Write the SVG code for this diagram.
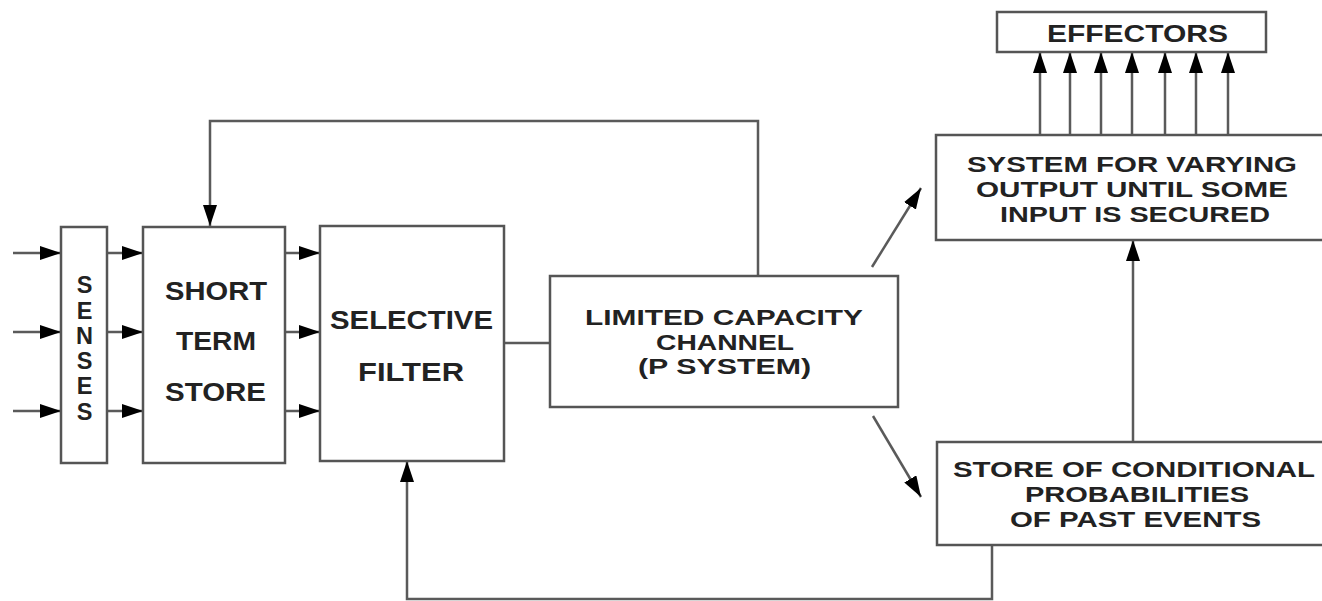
<svg xmlns="http://www.w3.org/2000/svg" width="1322" height="601" viewBox="0 0 1322 601">
<style>
.box{fill:#fff;stroke:#555;stroke-width:2.5}
.ln{fill:none;stroke:#5a5a5a;stroke-width:2.5}
.t{font-family:"Liberation Sans",Arial,sans-serif;font-weight:bold;font-size:22.5px;fill:#222;text-anchor:middle}
.big{font-size:25px}
</style>
<defs>
<marker id="ah" markerUnits="userSpaceOnUse" markerWidth="24" markerHeight="16" refX="21" refY="7" orient="auto">
<path d="M0,0 L21,7 L0,14 Z" fill="#000"/>
</marker>
</defs>
<rect width="1322" height="601" fill="#fff"/>
<g id="connectors">
<line class="ln" x1="13" y1="253" x2="61" y2="253" marker-end="url(#ah)"/>
<line class="ln" x1="13" y1="332" x2="61" y2="332" marker-end="url(#ah)"/>
<line class="ln" x1="13" y1="411" x2="61" y2="411" marker-end="url(#ah)"/>
<line class="ln" x1="107" y1="253" x2="143" y2="253" marker-end="url(#ah)"/>
<line class="ln" x1="107" y1="332" x2="143" y2="332" marker-end="url(#ah)"/>
<line class="ln" x1="107" y1="411" x2="143" y2="411" marker-end="url(#ah)"/>
<line class="ln" x1="285" y1="253" x2="320" y2="253" marker-end="url(#ah)"/>
<line class="ln" x1="285" y1="332" x2="320" y2="332" marker-end="url(#ah)"/>
<line class="ln" x1="285" y1="411" x2="320" y2="411" marker-end="url(#ah)"/>
<line class="ln" x1="504" y1="343" x2="550" y2="343"/>
<path class="ln" d="M758,276 V121 H210 V226" marker-end="url(#ah)"/>
<path class="ln" d="M992,545 V599 H407 V461" marker-end="url(#ah)"/>
<line class="ln" x1="872" y1="267" x2="921" y2="188" marker-end="url(#ah)"/>
<line class="ln" x1="873" y1="416" x2="921" y2="497" marker-end="url(#ah)"/>
<line class="ln" x1="1133" y1="442" x2="1133" y2="240" marker-end="url(#ah)"/>
<line class="ln" x1="1040" y1="135" x2="1040" y2="52" marker-end="url(#ah)"/>
<line class="ln" x1="1070" y1="135" x2="1070" y2="52" marker-end="url(#ah)"/>
<line class="ln" x1="1101" y1="135" x2="1101" y2="52" marker-end="url(#ah)"/>
<line class="ln" x1="1132" y1="135" x2="1132" y2="52" marker-end="url(#ah)"/>
<line class="ln" x1="1165" y1="135" x2="1165" y2="52" marker-end="url(#ah)"/>
<line class="ln" x1="1196" y1="135" x2="1196" y2="52" marker-end="url(#ah)"/>
<line class="ln" x1="1228" y1="135" x2="1228" y2="52" marker-end="url(#ah)"/>
</g>
<g id="senses">
<rect class="box" x="61" y="227" width="46" height="236"/>
<text class="t" style="font-size:23.5px"><tspan x="84.5" y="293">S</tspan><tspan x="84.5" y="319">E</tspan><tspan x="84.5" y="344">N</tspan><tspan x="84.5" y="369">S</tspan><tspan x="84.5" y="394">E</tspan><tspan x="84.5" y="420">S</tspan></text>
</g>
<g id="short-term-store">
<rect class="box" x="143" y="227" width="142" height="236"/>
<text class="t big" x="216" y="300" textLength="102" lengthAdjust="spacingAndGlyphs">SHORT</text>
<text class="t big" x="216" y="350" textLength="80" lengthAdjust="spacingAndGlyphs">TERM</text>
<text class="t big" x="215.5" y="401" textLength="101" lengthAdjust="spacingAndGlyphs">STORE</text>
</g>
<g id="selective-filter">
<rect class="box" x="320" y="226" width="184" height="235"/>
<text class="t big" x="411.5" y="329" textLength="163" lengthAdjust="spacingAndGlyphs">SELECTIVE</text>
<text class="t big" x="411" y="381" textLength="106" lengthAdjust="spacingAndGlyphs">FILTER</text>
</g>
<g id="limited-capacity-channel">
<rect class="box" x="550" y="276" width="348" height="131"/>
<text class="t" x="724" y="325" textLength="278" lengthAdjust="spacingAndGlyphs">LIMITED CAPACITY</text>
<text class="t" x="725" y="350" textLength="138" lengthAdjust="spacingAndGlyphs">CHANNEL</text>
<text class="t" x="724.5" y="374" textLength="173" lengthAdjust="spacingAndGlyphs">(P SYSTEM)</text>
</g>
<g id="system-varying-output">
<rect class="box" x="936" y="135" width="400" height="105"/>
<text class="t" x="1132" y="172" textLength="330" lengthAdjust="spacingAndGlyphs">SYSTEM FOR VARYING</text>
<text class="t" x="1132" y="197" textLength="312" lengthAdjust="spacingAndGlyphs">OUTPUT UNTIL SOME</text>
<text class="t" x="1135" y="222" textLength="270" lengthAdjust="spacingAndGlyphs">INPUT IS SECURED</text>
</g>
<g id="effectors">
<rect class="box" x="997" y="12" width="269" height="40"/>
<text class="t" style="font-size:23.5px" x="1137.5" y="42" textLength="181" lengthAdjust="spacingAndGlyphs">EFFECTORS</text>
</g>
<g id="store-conditional-probabilities">
<rect class="box" x="937" y="442" width="400" height="103"/>
<text class="t" x="1134" y="477" textLength="362" lengthAdjust="spacingAndGlyphs">STORE OF CONDITIONAL</text>
<text class="t" x="1137" y="502" textLength="224" lengthAdjust="spacingAndGlyphs">PROBABILITIES</text>
<text class="t" x="1135.5" y="527" textLength="251" lengthAdjust="spacingAndGlyphs">OF PAST EVENTS</text>
</g>
</svg>
